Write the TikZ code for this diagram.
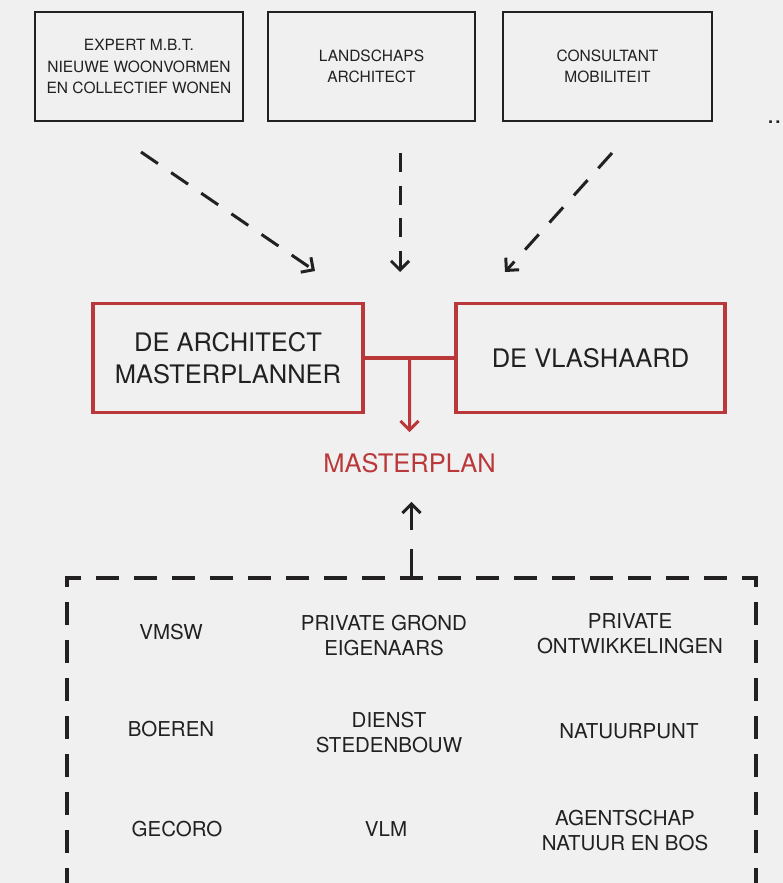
\documentclass[tikz,border=0pt]{standalone}
\usepackage{fontspec}
\setmainfont{TeX Gyre Heros}
\usetikzlibrary{shapes}
\usetikzlibrary{arrows.meta}
\usetikzlibrary{calc}

\definecolor{paper}{RGB}{240,240,240}
\definecolor{ink}{RGB}{34,32,33}
\definecolor{planred}{RGB}{187,56,58}

\begin{document}
\begin{tikzpicture}[x = 1pt, y = -1pt,
	expertbox/.style = {draw = ink,
					 line width = 2.6pt,
					 minimum height = 109pt,
					 align = center,
					 text = ink,
					 font = \fontsize{15.5}{21.5}\selectfont},
	redbox/.style = {draw = planred,
					 line width = 3.2pt,
					 minimum width = 270pt,
					 minimum height = 109pt,
					 align = center,
					 text = ink,
					 font = \fontsize{25.5}{32}\selectfont},
	partner/.style = {align = center,
					 text = ink,
					 font = \fontsize{20.5}{25}\selectfont},
	partnerline/.style = {ink,
					 line width = 3.6pt,
					 dash pattern = on 23pt off 15pt,
					 dash phase = 11.5pt},
	dasharrow/.style = {ink,
					 line width = 3pt,
					 dash pattern = on 20.5pt off 16pt,
					 -{Straight Barb[length = 9pt, width = 18pt]}}]

	\useasboundingbox (0,0) rectangle (783,883);
	\clip (0,0) rectangle (783,883);
	\fill[paper] (0,0) rectangle (783,883);

	\draw (139,66.5) node[expertbox, minimum width = 208pt](expert) {EXPERT M.B.T.\\NIEUWE WOONVORMEN\\EN COLLECTIEF WONEN};
	\draw (371.5,66.5) node[expertbox, minimum width = 207pt](landschap) {LANDSCHAPS\\ARCHITECT};
	\draw (607.5,66.5) node[expertbox, minimum width = 209pt](mobiliteit) {CONSULTANT\\MOBILITEIT};
	\draw (767,123) node[anchor = base west,
					 inner sep = 0pt,
					 text = ink,
					 font = \fontsize{25.5}{32}\selectfont](meer) {..};

	\draw (228,358) node[redbox](architect) {DE ARCHITECT\\MASTERPLANNER};
	\draw (590.5,358) node[redbox, minimum width = 269pt](vlashaard) {DE VLASHAARD};
	\draw (409.5,463) node[inner sep = 0pt,
					 text = planred,
					 font = \fontsize{25.5}{32}\selectfont](masterplan) {MASTERPLAN};

	\coordinate (expert tail) at (141,152);
	\coordinate (expert head) at (315,271);
	\coordinate (landschap tail) at (400,153);
	\coordinate (landschap head) at (400,272);
	\coordinate (mobiliteit tail) at (612,153);
	\coordinate (mobiliteit head) at (505,272);

	\draw[dasharrow] (expert tail) -- (expert head);
	\draw[dasharrow, dash pattern = on 19pt off 13.5pt] (landschap tail) -- (landschap head);
	\draw[dasharrow] (mobiliteit tail) -- (mobiliteit head);

	\draw[planred, line width = 4.5pt] (architect.east) -- (vlashaard.west);
	\draw[planred, line width = 3pt,
		 -{Straight Barb[length = 9pt, width = 18pt]},
		 shorten >= 21pt] ($(architect.east)!0.5!(vlashaard.west)$) -- (masterplan);

	% frame around the partners, dashed outwards from the middle of the top
	\draw (411.5,578) node[anchor = north,
					 outer sep = 0pt,
					 minimum width = 689pt,
					 minimum height = 400pt](partners) {};
	\draw[partnerline] (partners.north) -- (partners.north west) -- (partners.south west);
	\draw[partnerline] (partners.north) -- (partners.north east) -- (partners.south east);

	\draw[dasharrow, dash pattern = on 29pt off 19pt, shorten >= 29pt]
		(partners.north) -- (partners.north |- masterplan.south);

	\draw (171,632) node[partner](vmsw) {VMSW};
	\draw (384,636) node[partner](grond) {PRIVATE GROND\\EIGENAARS};
	\draw (630,634) node[partner](ontwikkeling) {PRIVATE\\ONTWIKKELINGEN};
	\draw (171,729) node[partner](boeren) {BOEREN};
	\draw (389,733) node[partner](stedenbouw) {DIENST\\STEDENBOUW};
	\draw (629,731) node[partner](natuurpunt) {NATUURPUNT};
	\draw (177,829) node[partner](gecoro) {GECORO};
	\draw (386,829) node[partner](vlm) {VLM};
	\draw (625,831) node[partner](anb) {AGENTSCHAP\\NATUUR EN BOS};

\end{tikzpicture}
\end{document}
